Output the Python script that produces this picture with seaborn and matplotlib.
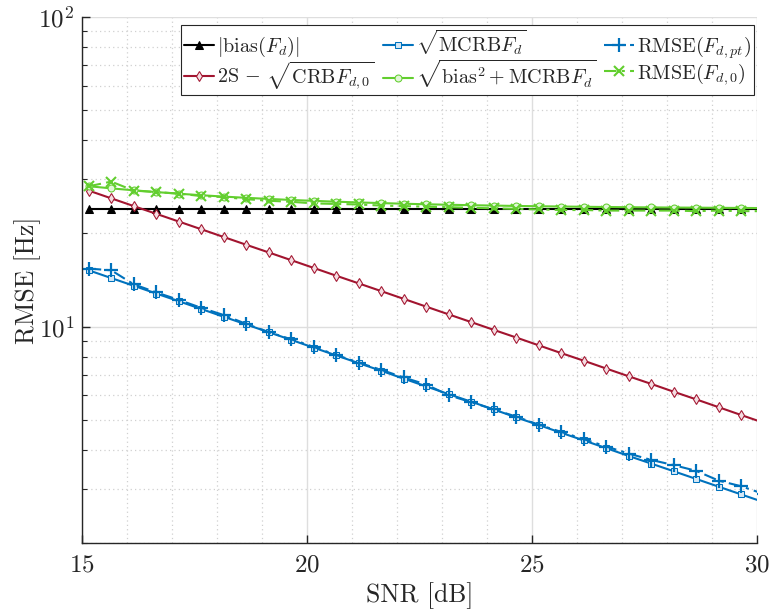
import numpy as np
import pandas as pd
import seaborn as sns
import matplotlib
matplotlib.use("Agg")
import matplotlib.pyplot as plt
from matplotlib.ticker import LogLocator, NullFormatter, FixedLocator

# SNR grid (dB)
snr = [15.15, 15.65, 16.15, 16.65, 17.15, 17.65, 18.15, 18.65, 19.15, 19.65,
       20.15, 20.65, 21.15, 21.65, 22.15, 22.65, 23.15, 23.65, 24.15, 24.65,
       25.15, 25.65, 26.15, 26.65, 27.15, 27.65, 28.15, 28.65, 29.15, 29.65,
       30.15]

# |bias(F_d)|
bias = [24.0] * 31

# 2S - sqrt(CRB F_d,0)
crb_2s = [27.50, 25.96, 24.51, 23.14, 21.85, 20.63, 19.47, 18.38, 17.36, 16.39,
          15.47, 14.60, 13.79, 13.02, 12.29, 11.60, 10.95, 10.34, 9.76, 9.22,
          8.70, 8.21, 7.76, 7.32, 6.91, 6.53, 6.16, 5.82, 5.49, 5.18,
          4.89]

# sqrt(MCRB F_d)
mcrb = [15.20, 14.35, 13.55, 12.79, 12.08, 11.40, 10.76, 10.16, 9.59, 9.06,
        8.55, 8.07, 7.62, 7.20, 6.79, 6.41, 6.05, 5.72, 5.40, 5.09,
        4.81, 4.54, 4.29, 4.05, 3.82, 3.61, 3.41, 3.22, 3.04, 2.87,
        2.71]

# sqrt(bias^2 + MCRB F_d)
bias_mcrb = [28.41, 27.96, 27.56, 27.20, 26.87, 26.57, 26.30, 26.06, 25.85, 25.65,
             25.48, 25.32, 25.18, 25.06, 24.94, 24.84, 24.75, 24.67, 24.60, 24.53,
             24.48, 24.43, 24.38, 24.34, 24.30, 24.27, 24.24, 24.22, 24.19, 24.17,
             24.15]

# RMSE(F_d,pt)
rmse_pt = [15.4, 15.2, 13.7, 12.9, 12.2, 11.5, 10.9, 10.2, 9.6, 9.1,
           8.6, 8.1, 7.65, 7.25, 6.85, 6.5, 6.0, 5.7, 5.4, 5.12,
           4.82, 4.57, 4.33, 4.10, 3.89, 3.71, 3.57, 3.42, 3.18, 3.05,
           2.88]

# RMSE(F_d,0)
rmse_0 = [28.4, 29.4, 27.5, 27.2, 26.9, 26.4, 26.2, 25.8, 25.5, 25.3,
          25.0, 24.9, 24.8, 24.6, 24.5, 24.4, 24.3, 24.2, 24.1, 24.0,
          23.9, 23.8, 23.8, 23.7, 23.7, 23.7, 23.7, 23.6, 23.7, 23.6,
          23.6]

x_ticks = [15, 20, 25, 30]

sns.set_theme(style="ticks")
plt.rcParams.update({
    "font.family": "serif",
    "font.serif": ["cmr10", "DejaVu Serif"],
    "mathtext.fontset": "cm",
    "axes.unicode_minus": False,
    "axes.formatter.use_mathtext": True,
})

RED = "#A2142F"
BLUE = "#0072BD"
GREEN = "#62CE2E"

fig = plt.figure(figsize=(7.72, 6.14), dpi=100)
ax = fig.add_axes([0.1062, 0.1156, 0.8744, 0.8567])

dashdot = (0, (6, 2.5, 1.5, 2.5))
series = [
    (bias, r"$|\mathrm{bias}(F_d)|$", "black", "^", "-", dict(markerfacecolor="black", markersize=5.5)),
    (crb_2s, r"$\mathrm{2S}\,-\,\sqrt{\mathrm{CRB}F_{d,0}}$", RED, "d", "-", dict(markerfacecolor="#f4dde2", markersize=5.5)),
    (mcrb, r"$\sqrt{\mathrm{MCRB}F_d}$", BLUE, "s", "-", dict(markerfacecolor="#d6e8f5", markersize=4.5)),
    (bias_mcrb, r"$\sqrt{\mathrm{bias}^2+\mathrm{MCRB}F_d}$", GREEN, "o", "-", dict(markerfacecolor="#e2f6d8", markersize=5)),
    (rmse_pt, r"$\mathrm{RMSE}(F_{d,pt})$", BLUE, "+", dashdot, dict(markersize=10, markeredgewidth=1.6)),
    (rmse_0, r"$\mathrm{RMSE}(F_{d,0})$", GREEN, "x", dashdot, dict(markersize=7, markeredgewidth=1.5)),
]

for vals, label, color, marker, ls, mk in series:
    df = pd.DataFrame({"snr": snr, "rmse": vals})
    sns.lineplot(data=df, x="snr", y="rmse", ax=ax, color=color, marker=marker,
                 linestyle=ls, linewidth=1.5, markeredgecolor=color,
                 label=label, **mk)

ax.set_yscale("log")
ax.set_xlim(15, 30)
ax.set_ylim(2, 100)

ax.xaxis.set_major_locator(FixedLocator(x_ticks))
ax.xaxis.set_minor_locator(FixedLocator(list(range(15, 31))))
ax.yaxis.set_major_locator(LogLocator(base=10, numticks=5))
ax.yaxis.set_minor_locator(LogLocator(base=10, subs=np.arange(2, 10), numticks=10))
ax.yaxis.set_minor_formatter(NullFormatter())

ax.grid(which="major", color="#dedede", linestyle="-", linewidth=1.0)
ax.grid(which="minor", color="#d0d0d0", linestyle=(0, (1, 2.5)), linewidth=0.9)
ax.set_axisbelow(True)

ax.tick_params(axis="both", which="major", direction="in", length=5.5, width=1.0,
               labelsize=18, color="#262626", labelcolor="#262626")
ax.tick_params(axis="x", which="major", pad=8)
ax.tick_params(axis="y", which="major", pad=5.5)
ax.tick_params(axis="y", which="minor", direction="in", length=3.7, width=0.8, color="#262626")
ax.tick_params(axis="x", which="minor", length=0)

for side in ["top", "right"]:
    ax.spines[side].set_visible(False)
for side in ["left", "bottom"]:
    ax.spines[side].set_color("#262626")
    ax.spines[side].set_linewidth(1.0)

ax.set_xlabel("SNR [dB]", fontsize=18.5, color="#262626", labelpad=4)
ax.set_ylabel("RMSE [Hz]", fontsize=18.5, color="#262626", labelpad=-2)

leg = ax.legend(loc="upper right", bbox_to_anchor=(0.996, 0.985), borderaxespad=0,
                ncol=3, fontsize=14.5, frameon=True, fancybox=False,
                handlelength=1.5, handletextpad=0.15, columnspacing=0.4,
                labelspacing=0.0, borderpad=0.15)
leg.get_frame().set_edgecolor("#262626")
leg.get_frame().set_linewidth(0.8)
leg.get_frame().set_alpha(1)

fig.savefig("out.png", dpi=100)
